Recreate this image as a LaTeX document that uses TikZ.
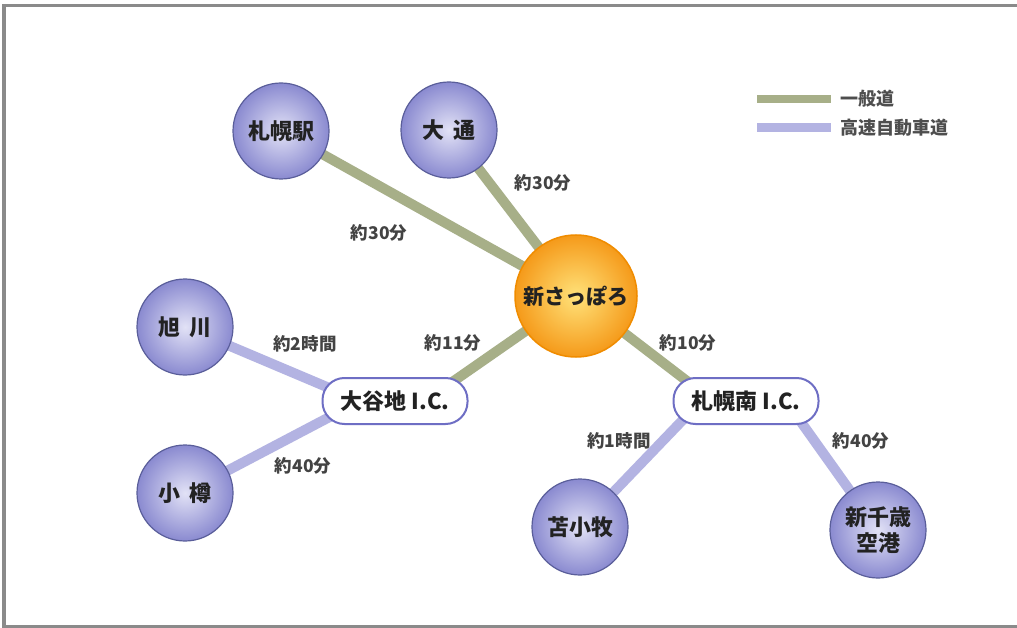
\documentclass[tikz,border=0pt]{standalone}
\usepackage{fontspec}
\setmainfont{Noto Sans CJK JP}
\usetikzlibrary{backgrounds}
\definecolor{roadg}{HTML}{A7AF88}
\definecolor{roadp}{HTML}{B3B3E2}
\definecolor{ballin}{HTML}{E2E2F6}
\definecolor{ballout}{HTML}{8A8AD0}
\definecolor{balledge}{HTML}{5A5E9A}
\definecolor{orin}{HTML}{FFE27A}
\definecolor{orout}{HTML}{F59A1A}
\definecolor{oredge}{HTML}{F08C00}
\definecolor{icedge}{HTML}{6E6EC4}
\definecolor{txt}{HTML}{222222}
\definecolor{framec}{HTML}{8A8A8A}
\begin{document}
\begin{tikzpicture}[x=1pt,y=-1pt,
 station/.style={circle,minimum size=96pt,inner sep=0pt,draw=balledge,line width=1.2pt,
   inner color=ballin,outer color=ballout,text=txt,font=\fontsize{22}{28}\selectfont\bfseries,align=center},
 hub/.style={circle,minimum size=122pt,inner sep=0pt,draw=oredge,line width=1.5pt,
   inner color=orin,outer color=orout,text=txt,font=\fontsize{21}{24}\selectfont\bfseries},
 icbox/.style={rectangle,rounded corners=22pt,draw=icedge,line width=2pt,fill=white,
   minimum width=145pt,minimum height=46pt,inner sep=0pt,text=txt,font=\fontsize{22}{24}\selectfont\bfseries},
 tlabel/.style={text=txt!85,font=\fontsize{17.5}{19}\selectfont\bfseries,inner sep=0pt},
 legtext/.style={text=txt!80,font=\fontsize{18}{20}\selectfont\bfseries,inner sep=0pt,anchor=west},
 general/.style={draw=roadg,line width=10pt},
 highway/.style={draw=roadp,line width=10pt},
]
\useasboundingbox (0,0) rectangle (1017,628);

% nodes
\node[station] (sapporo) at (281,131) {札幌駅};
\node[station] (odori) at (449,130) {大\hspace{9pt}通};
\node[hub] (shin) at (576,296) {新さっぽろ};
\node[station] (asahi) at (185,327) {旭\hspace{9pt}川};
\node[station] (otaru) at (185,493) {小\hspace{9pt}樽};
\node[icbox] (oyachi) at (395,401) {大谷地 I.C.};
\node[icbox] (minami) at (746,401) {札幌南 I.C.};
\node[station] (toma) at (580,527) {苫小牧};
\node[station] (chitose) at (878,530) {新千歳\\[-2pt]空港};

% labels
\node[tlabel] (l1) at (543,183) {約30分};
\node[tlabel] (l2) at (379,233) {約30分};
\node[tlabel] (l3) at (453,343) {約11分};
\node[tlabel] (l4) at (688,343) {約10分};
\node[tlabel] (l5) at (305,344) {約2時間};
\node[tlabel] (l6) at (303,466) {約40分};
\node[tlabel] (l7) at (619,441) {約1時間};
\node[tlabel] (l8) at (861,441) {約40分};

% legend
\coordinate (g1) at (757,99);
\coordinate (g2) at (831,99);
\coordinate (p1) at (757,128);
\coordinate (p2) at (831,128);
\draw[draw=roadg,line width=8pt] (g1) -- (g2);
\draw[draw=roadp,line width=9pt] (p1) -- (p2);
\node[legtext] (lg1) at (840,99) {一般道};
\node[legtext] (lg2) at (840,128) {高速自動車道};

% frame
\draw[framec,line width=3.5pt] (1017,5.5) -- (2,5.5);
\draw[framec,line width=3.5pt] (4,4) -- (4,628);
\draw[framec,line width=2.5pt] (2,626.5) -- (1017,626.5);

\begin{scope}[on background layer]
\fill[white] (0,0) rectangle (1017,628);
\draw[general] (sapporo.center) -- (shin.center);
\draw[general] (odori.center) -- (shin.center);
\draw[general] (shin.center) -- ([xshift=30pt]oyachi.center);
\draw[general] (shin.center) -- ([xshift=-33pt]minami.center);
\draw[highway] (asahi.center) -- ([xshift=-35pt]oyachi.center);
\draw[highway] (otaru.center) -- ([xshift=-35pt]oyachi.center);
\draw[highway] ([xshift=-45pt]minami.center) -- (toma.center);
\draw[highway] ([xshift=40pt]minami.center) -- (chitose.center);
\end{scope}
\end{tikzpicture}
\end{document}
